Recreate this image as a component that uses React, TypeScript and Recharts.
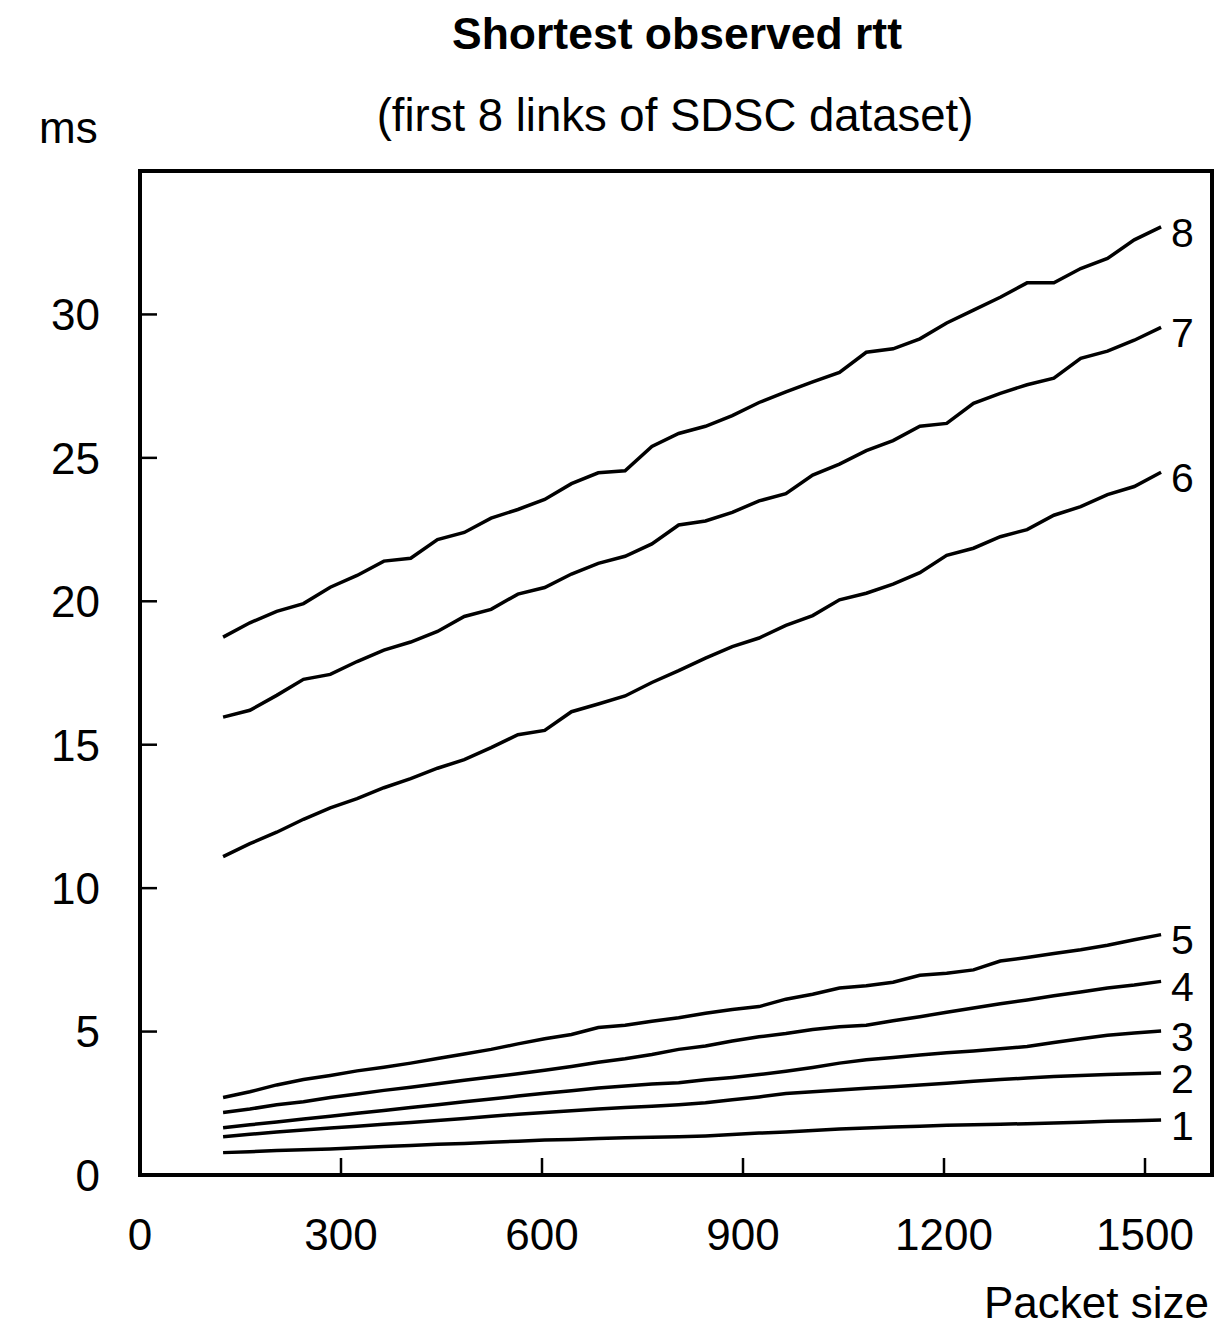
import { LineChart, Line, XAxis, YAxis, ReferenceArea } from "recharts";

const FONT = "'Liberation Sans', Arial, Helvetica, sans-serif";

const packetSizes = [
  124, 164, 204, 244, 284, 324, 364, 404, 444, 484, 524, 564, 604, 644, 684, 724, 764, 804,
  844, 884, 924, 964, 1004, 1044, 1084, 1124, 1164, 1204, 1244, 1284, 1324, 1364, 1404, 1444,
  1484, 1524,
];

const link1 = [
  0.78, 0.81, 0.85, 0.88, 0.91, 0.95, 0.99, 1.03, 1.07, 1.1, 1.14, 1.18, 1.22, 1.24, 1.27, 1.3,
  1.32, 1.33, 1.36, 1.41, 1.46, 1.5, 1.55, 1.6, 1.64, 1.67, 1.7, 1.73, 1.75, 1.77, 1.79, 1.81,
  1.84, 1.87, 1.89, 1.92,
];
const link2 = [
  1.33, 1.42, 1.5, 1.57, 1.64, 1.7, 1.77, 1.83, 1.9, 1.97, 2.05, 2.12, 2.18, 2.24, 2.3, 2.35,
  2.4, 2.45, 2.52, 2.62, 2.72, 2.84, 2.9, 2.96, 3.02, 3.08, 3.14, 3.2, 3.27, 3.33, 3.38, 3.43,
  3.47, 3.5, 3.53, 3.56,
];
const link3 = [
  1.65, 1.75, 1.85, 1.95, 2.05, 2.15, 2.25, 2.35, 2.45, 2.55, 2.65, 2.75, 2.85, 2.94, 3.03, 3.1,
  3.17, 3.22, 3.32, 3.4, 3.5, 3.62, 3.75, 3.9, 4.02, 4.1, 4.18, 4.26, 4.32, 4.4, 4.48, 4.62,
  4.75, 4.87, 4.95, 5.02,
];
const link4 = [
  2.18, 2.3, 2.45, 2.55, 2.7, 2.82, 2.95, 3.06, 3.18, 3.3, 3.42, 3.53, 3.65, 3.78, 3.93, 4.05,
  4.2, 4.38, 4.5, 4.67, 4.82, 4.93, 5.07, 5.17, 5.22, 5.38, 5.52, 5.67, 5.82, 5.97, 6.1, 6.25,
  6.38, 6.52, 6.62, 6.75,
];
const link5 = [
  2.7, 2.9, 3.14, 3.33, 3.47, 3.63, 3.76, 3.9, 4.06, 4.22, 4.38, 4.57, 4.75, 4.9, 5.14, 5.22,
  5.36, 5.48, 5.64, 5.77, 5.87, 6.13, 6.3, 6.52, 6.6, 6.72, 6.96, 7.03, 7.15, 7.46, 7.58, 7.72,
  7.85, 8.01, 8.2, 8.38,
];
const link6 = [
  11.1, 11.55, 11.95, 12.4, 12.8, 13.12, 13.5, 13.82, 14.18, 14.48, 14.9, 15.35, 15.5, 16.15,
  16.42, 16.7, 17.17, 17.58, 18.02, 18.42, 18.72, 19.16, 19.5, 20.05, 20.28, 20.6, 21.0, 21.6,
  21.85, 22.25, 22.5, 23.0, 23.3, 23.72, 24.0, 24.5,
];
const link7 = [
  15.96, 16.2, 16.72, 17.28, 17.45, 17.9, 18.3, 18.58, 18.95, 19.47, 19.72, 20.25, 20.48, 20.95,
  21.32, 21.57, 22.0, 22.66, 22.8, 23.1, 23.5, 23.75, 24.4, 24.78, 25.25, 25.6, 26.1, 26.2,
  26.9, 27.25, 27.55, 27.78, 28.47, 28.72, 29.1, 29.55,
];
const link8 = [
  18.75, 19.25, 19.65, 19.92, 20.49, 20.9, 21.4, 21.5, 22.15, 22.4, 22.9, 23.2, 23.55, 24.1,
  24.48, 24.55, 25.4, 25.85, 26.1, 26.47, 26.93, 27.3, 27.65, 27.98, 28.68, 28.8, 29.15, 29.7,
  30.15, 30.6, 31.1, 31.1, 31.6, 31.95, 32.6, 33.05,
];

const links = [link1, link2, link3, link4, link5, link6, link7, link8];
const linkNames = ["1", "2", "3", "4", "5", "6", "7", "8"];
const xTicks = [0, 300, 600, 900, 1200, 1500];
const yTicks = [0, 5, 10, 15, 20, 25, 30];

const data = packetSizes.map((size, i) => {
  const row: Record<string, number> = { size };
  links.forEach((l, k) => {
    row[`l${k + 1}`] = l[i];
  });
  return row;
});

function XTick({ x, y, payload }: any) {
  return (
    <g>
      {payload.value !== 0 && (
        <line x1={x} x2={x} y1={y} y2={y - 17} stroke="#000" strokeWidth={2.5} />
      )}
      <text x={x} y={y + 75} textAnchor="middle" fontSize={44} fontFamily={FONT} fill="#000">
        {payload.value}
      </text>
    </g>
  );
}

function YTick({ x, y, payload }: any) {
  return (
    <g>
      {payload.value !== 0 && (
        <line x1={x} x2={x + 17} y1={y} y2={y} stroke="#000" strokeWidth={2.5} />
      )}
      <text x={x - 40} y={y} dy="0.36em" textAnchor="end" fontSize={44} fontFamily={FONT} fill="#000">
        {payload.value}
      </text>
    </g>
  );
}

function endLabel(name: string) {
  return (props: any) => {
    if (props.index !== packetSizes.length - 1) return null;
    return (
      <text
        key={`lbl-${name}`}
        x={props.x + 10}
        y={props.y + 5}
        dy="0.36em"
        fontSize={41}
        fontFamily={FONT}
        fill="#000"
      >
        {name}
      </text>
    );
  };
}

export default function App() {
  return (
    <div style={{ position: "absolute", left: 0, top: 0, width: 1220, height: 1330, background: "#fff" }}>
      <svg
        width={1220}
        height={1330}
        style={{ position: "absolute", left: 0, top: 0, pointerEvents: "none" }}
      >
        <text x={677} y={49} textAnchor="middle" fontSize={44.5} fontWeight="bold" fontFamily={FONT}>
          Shortest observed rtt
        </text>
        <text x={675} y={131} textAnchor="middle" fontSize={45.5} fontFamily={FONT}>
          (first 8 links of SDSC dataset)
        </text>
        <text x={39} y={143} fontSize={44} fontFamily={FONT}>
          ms
        </text>
        <text x={1209} y={1318} textAnchor="end" fontSize={44} fontFamily={FONT}>
          Packet size
        </text>
      </svg>
      <LineChart
        width={1220}
        height={1330}
        data={data}
        margin={{ top: 171, right: 8, bottom: 95, left: 80 }}
      >
        <XAxis
          dataKey="size"
          type="number"
          domain={[0, 1600]}
          ticks={xTicks}
          height={60}
          tickSize={0}
          tickMargin={0}
          tickLine={false}
          axisLine={false}
          tick={<XTick />}
          interval={0}
        />
        <YAxis
          type="number"
          domain={[0, 35]}
          ticks={yTicks}
          width={60}
          tickSize={0}
          tickMargin={0}
          tickLine={false}
          axisLine={false}
          tick={<YTick />}
          interval={0}
        />
        <ReferenceArea
          x1={0}
          x2={1600}
          y1={0}
          y2={35}
          fill="none"
          fillOpacity={0}
          stroke="#000"
          strokeWidth={4}
          ifOverflow="visible"
        />
        {linkNames.map((name, k) => (
          <Line
            key={name}
            dataKey={`l${k + 1}`}
            type="linear"
            stroke="#000"
            strokeWidth={3.5}
            dot={false}
            isAnimationActive={false}
            label={endLabel(name)}
          />
        ))}
      </LineChart>
    </div>
  );
}
